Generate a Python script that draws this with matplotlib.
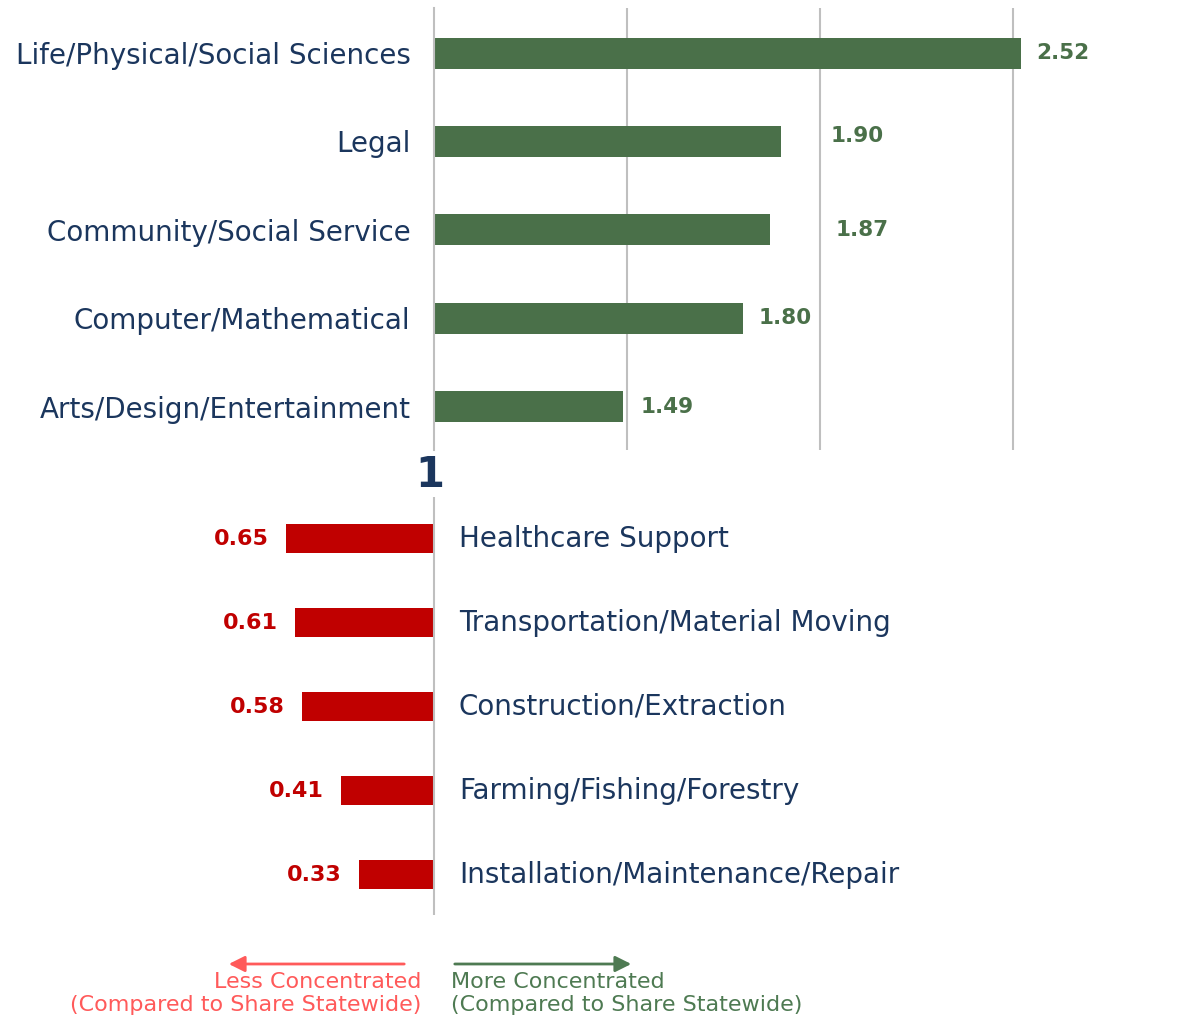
import numpy as np
import matplotlib.pyplot as plt

W, H = 1191, 1017

# data
top_cats = ["Life/Physical/Social Sciences", "Legal", "Community/Social Service",
            "Computer/Mathematical", "Arts/Design/Entertainment"]
top_vals = [2.52, 1.90, 1.87, 1.80, 1.49]

bot_cats = ["Healthcare Support", "Transportation/Material Moving",
            "Construction/Extraction", "Farming/Fishing/Forestry",
            "Installation/Maintenance/Repair"]
bot_vals = [0.65, 0.61, 0.58, 0.41, 0.33]

# label nudges (pixels) to mimic the hand-placed labels in the original
top_label_dx = [16, 49, 66, 16, 17]
top_label_dy = [0, 5, 0, 0, 0]

NAVY = "#1b365d"
GREEN = "#4a7049"
RED = "#c00000"
GRID = "#bfbfbf"

plt.rcParams["font.family"] = ["DejaVu Sans"]

fig = plt.figure(figsize=(W / 100, H / 100), dpi=100)


def px_axes(x0, y0, x1, y1):
    # pixel box measured from top-left
    return fig.add_axes([x0 / W, (H - y1) / H, (x1 - x0) / W, (y1 - y0) / H])


# ---- top panel: above-state concentration, bars start at 1
ax1 = px_axes(434, 8, W, 450)
y = np.arange(len(top_cats))
ax1.barh(y, np.array(top_vals) - 1, left=1, height=0.35, color=GREEN)
ax1.set_xlim(1, 1 + (W - 434) / 386)
ax1.set_ylim(len(top_cats) - 0.51, -0.51)
for gx in [1.5, 2.0, 2.5]:
    ax1.axvline(gx, color=GRID, lw=1.5, zorder=0)
for s in ["top", "right", "bottom"]:
    ax1.spines[s].set_visible(False)
ax1.spines["left"].set_color(GRID)
ax1.spines["left"].set_linewidth(1.5)
ax1.set_xticks([])
ax1.set_yticks(y)
ax1.set_yticklabels(top_cats, fontsize=20, color=NAVY)
ax1.tick_params(axis="y", length=0, pad=17)
for i, v in enumerate(top_vals):
    ax1.annotate(f"{v:.2f}", (v, i), xytext=(top_label_dx[i] * 0.72, top_label_dy[i] * 0.72),
                 textcoords="offset points", ha="left", va="center",
                 fontsize=15.5, fontweight="bold", color=GREEN)

# ---- bottom panel: below-state concentration, bar length ~ value
ax2 = px_axes(0, 497, W, 915)
y2 = np.arange(len(bot_cats))
ax2.barh(y2, -np.array(bot_vals), left=0, height=0.345, color=RED)
ax2.set_xlim(-434 / 228, (W - 434) / 228)
ax2.set_ylim(len(bot_cats) - 0.52, -0.5)
ax2.axvline(0, color=GRID, lw=1.5)
ax2.axis("off")
for i, v in enumerate(bot_vals):
    ax2.annotate(f"{v:.2f}", (-v, i), xytext=(-17 * 0.72, 0), textcoords="offset points",
                 ha="right", va="center", fontsize=16, fontweight="bold", color=RED)
    ax2.annotate(bot_cats[i], (0, i), xytext=(25 * 0.72, 0), textcoords="offset points",
                 ha="left", va="center", fontsize=20, color=NAVY)

fig.text(430 / W, 1 - 475 / H, "1", ha="center", va="center",
         fontsize=30, fontweight="bold", color=NAVY)

# ---- direction arrows
LRED = "#ff5a5a"
LGREEN = "#4e7a52"
ay = H - 964
fig.add_artist(plt.Annotation("", xy=(226, ay), xytext=(407, ay), xycoords="figure pixels",
                              arrowprops=dict(arrowstyle="-|>", color=LRED, lw=2, mutation_scale=24)))
fig.add_artist(plt.Annotation("", xy=(634, ay), xytext=(452, ay), xycoords="figure pixels",
                              arrowprops=dict(arrowstyle="-|>", color=LGREEN, lw=2, mutation_scale=24)))
fs_note = 16
fig.text(421 / W, 1 - 982 / H, "Less Concentrated", ha="right", va="center", fontsize=fs_note, color=LRED)
fig.text(421 / W, 1 - 1005 / H, "(Compared to Share Statewide)", ha="right", va="center",
         fontsize=fs_note, color=LRED)
fig.text(451 / W, 1 - 982 / H, "More Concentrated", ha="left", va="center", fontsize=fs_note, color=LGREEN)
fig.text(451 / W, 1 - 1005 / H, "(Compared to Share Statewide)", ha="left", va="center",
         fontsize=fs_note, color=LGREEN)

fig.savefig("out.png", dpi=100)
